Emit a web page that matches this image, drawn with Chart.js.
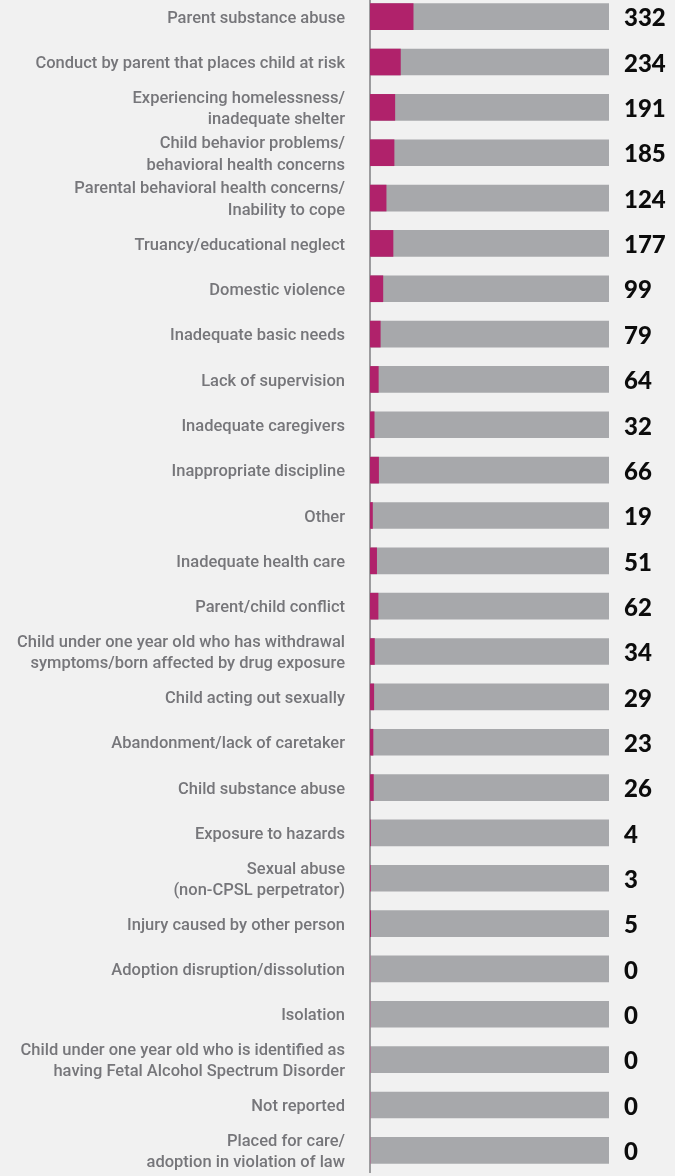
<!DOCTYPE html>
<html><head><meta charset="utf-8">
<script src="https://cdn.jsdelivr.net/npm/chart.js@4.4.1/dist/chart.umd.min.js"></script>
<style>
html,body{margin:0;padding:0;background:#f1f1f1;overflow:hidden;width:675px;height:1176px}
#wrap{position:absolute;left:0;top:-6px;width:675px;height:1179px}
</style></head>
<body><div id="wrap"><canvas id="c" width="675" height="1179"></canvas></div>
<script>
const categories = [
  "Parent substance abuse",
  "Conduct by parent that places child at risk",
  ["Experiencing homelessness/", "inadequate shelter"],
  ["Child behavior problems/", "behavioral health concerns"],
  ["Parental behavioral health concerns/", "Inability to cope"],
  "Truancy/educational neglect",
  "Domestic violence",
  "Inadequate basic needs",
  "Lack of supervision",
  "Inadequate caregivers",
  "Inappropriate discipline",
  "Other",
  "Inadequate health care",
  "Parent/child conflict",
  ["Child under one year old who has withdrawal", "symptoms/born affected by drug exposure"],
  "Child acting out sexually",
  "Abandonment/lack of caretaker",
  "Child substance abuse",
  "Exposure to hazards",
  ["Sexual abuse", "(non-CPSL perpetrator)"],
  "Injury caused by other person",
  "Adoption disruption/dissolution",
  "Isolation",
  ["Child under one year old who is identified as", "having Fetal Alcohol Spectrum Disorder"],
  "Not reported",
  ["Placed for care/", "adoption in violation of law"]
];
const caseCounts = [332, 234, 191, 185, 124, 177, 99, 79, 64, 32, 66, 19, 51, 62, 34, 29, 23, 26, 4, 3, 5, 0, 0, 0, 0, 0];
const totalCases = [1839, 1839, 1839, 1839, 1839, 1839, 1839, 1839, 1839, 1839, 1839, 1839, 1839, 1839, 1839, 1839, 1839, 1839, 1839, 1839, 1839, 1839, 1839, 1839, 1839, 1839];
const axisMax = 1839;

const valueLabels = {
  id: 'valueLabels',
  afterDatasetsDraw(chart) {
    const ctx = chart.ctx;
    const meta = chart.getDatasetMeta(0);
    ctx.save();
    ctx.fillStyle = '#0c0c0c';
    ctx.font = '900 24px Lato';
    ctx.textAlign = 'left';
    ctx.textBaseline = 'middle';
    meta.data.forEach((el, i) => {
      ctx.fillText(String(caseCounts[i]), chart.chartArea.right + 15, el.y + 2);
    });
    ctx.restore();
  }
};

new Chart(document.getElementById('c'), {
  type: 'bar',
  data: {
    labels: categories,
    datasets: [
      { data: caseCounts, backgroundColor: '#b0226b', grouped: false, order: 0, barThickness: 26 },
      { data: totalCases, backgroundColor: '#a7a8ab', grouped: false, order: 1, barThickness: 26 }
    ]
  },
  options: {
    indexAxis: 'y',
    responsive: false,
    animation: false,
    layout: { padding: { left: 0, right: 66, top: 0, bottom: 0 } },
    plugins: { legend: { display: false }, tooltip: { enabled: false } },
    scales: {
      x: { display: false, min: 0, max: axisMax },
      y: {
        grid: { display: false, drawTicks: false },
        border: { display: true, color: '#9c9c9e', width: 2 },
        afterFit: (s) => { s.width = 370; s.paddingTop = 0; s.paddingBottom = 0; },
        ticks: {
          autoSkip: false,
          color: '#76767a',
          padding: 25,
          labelOffset: 2,
          font: { family: 'Roboto', weight: '500', size: 16.5, lineHeight: 1.3 }
        }
      }
    }
  },
  plugins: [valueLabels]
});
</script>
</body></html>
